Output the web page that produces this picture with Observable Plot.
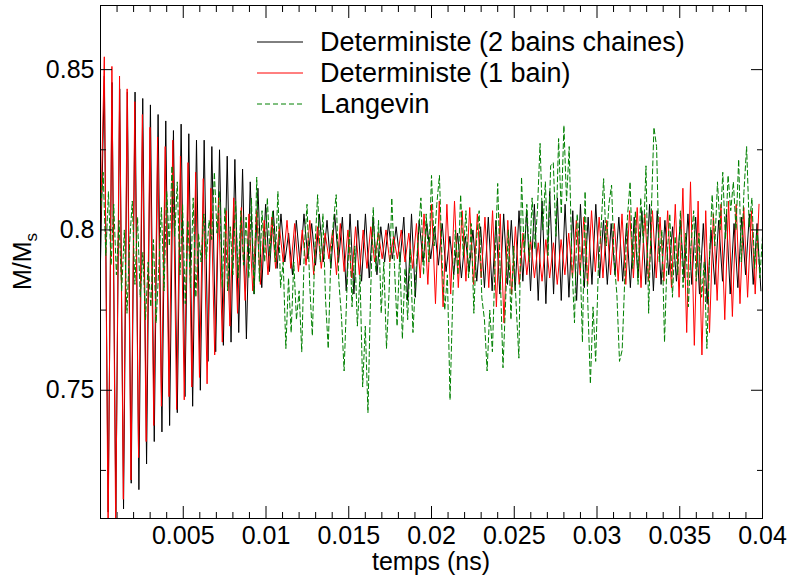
<!DOCTYPE html>
<html>
<head>
<meta charset="utf-8">
<script src="https://cdn.jsdelivr.net/npm/d3@7"></script>
<script src="https://cdn.jsdelivr.net/npm/@observablehq/plot@0.6"></script>
<style>
  body { margin: 0; background: #fff; }
  #chart { position: relative; width: 788px; height: 579px; }
</style>
</head>
<body>
<div id="chart"></div>
<script>
// ---- data ----
const seriesNames = ["Deterministe (2 bains chaines)", "Deterministe (1 bain)", "Langevin"];

const tStep2Bains = 0.000232;
const deterministe2Bains = [
  0.790,0.848,0.712,0.846,0.712,0.844,0.713,0.843,0.721,0.843,
  0.719,0.841,0.727,0.839,0.734,0.836,0.737,0.834,0.739,0.831,
  0.743,0.833,0.748,0.830,0.745,0.828,0.750,0.828,0.759,0.826,
  0.762,0.825,0.764,0.823,0.765,0.822,0.768,0.819,0.766,0.815,
  0.780,0.813,0.782,0.808,0.787,0.806,0.788,0.805,0.790,0.799,
  0.786,0.803,0.789,0.805,0.791,0.802,0.789,0.805,0.790,0.803,
  0.788,0.805,0.790,0.804,0.781,0.805,0.780,0.803,0.784,0.805,
  0.785,0.804,0.786,0.801,0.790,0.802,0.791,0.801,0.790,0.804,
  0.778,0.805,0.779,0.803,0.790,0.802,0.791,0.801,0.789,0.802,
  0.787,0.798,0.786,0.799,0.785,0.798,0.787,0.800,0.784,0.801,
  0.782,0.804,0.781,0.803,0.780,0.805,0.783,0.803,0.781,0.806,
  0.784,0.806,0.781,0.808,0.778,0.809,0.777,0.812,0.780,0.810,
  0.778,0.808,0.779,0.806,0.778,0.808,0.782,0.804,0.783,0.808,
  0.785,0.803,0.783,0.802,0.786,0.804,0.784,0.802,0.782,0.804,
  0.785,0.806,0.783,0.808,0.781,0.806,0.783,0.803,0.786,0.801,
  0.784,0.803,0.785,0.805,0.783,0.804,0.780,0.802,0.777,0.800,
  0.783,0.803,0.784,0.805,0.780,0.802,0.782,0.804,0.786,0.805,
  0.783,0.802,0.781
];

const tStep1Bain = 0.000230;
const deterministe1Bain = [
  0.800,0.854,0.704,0.851,0.706,0.848,0.716,0.844,0.722,0.840,
  0.729,0.836,0.734,0.832,0.739,0.829,0.745,0.826,0.748,0.828,
  0.744,0.823,0.747,0.821,0.751,0.818,0.754,0.816,0.752,0.813,
  0.761,0.810,0.765,0.806,0.770,0.810,0.774,0.807,0.778,0.805,
  0.781,0.806,0.783,0.803,0.786,0.804,0.788,0.801,0.790,0.803,
  0.788,0.802,0.787,0.800,0.789,0.803,0.786,0.801,0.788,0.799,
  0.791,0.800,0.786,0.802,0.787,0.800,0.785,0.801,0.786,0.800,
  0.788,0.801,0.790,0.799,0.791,0.800,0.790,0.798,0.791,0.800,
  0.790,0.799,0.788,0.802,0.785,0.805,0.783,0.808,0.777,0.809,
  0.776,0.808,0.780,0.809,0.782,0.806,0.784,0.807,0.783,0.805,
  0.785,0.804,0.782,0.806,0.776,0.805,0.771,0.803,0.780,0.801,
  0.783,0.799,0.786,0.797,0.785,0.796,0.784,0.797,0.785,0.796,
  0.783,0.797,0.786,0.799,0.785,0.803,0.786,0.804,0.783,0.806,
  0.787,0.804,0.785,0.803,0.786,0.802,0.784,0.805,0.783,0.806,
  0.785,0.807,0.782,0.805,0.784,0.806,0.785,0.804,0.784,0.806,
  0.782,0.808,0.779,0.813,0.768,0.815,0.764,0.809,0.761,0.806,
  0.768,0.805,0.778,0.808,0.772,0.809,0.773,0.808,0.777,0.807,
  0.779,0.806,0.780,0.808
];

const tStepLangevin = 0.00016;
const langevin = [
  0.805,0.818,0.792,0.812,0.789,0.808,0.786,0.803,0.781,0.800,
  0.774,0.796,0.809,0.783,0.804,0.779,0.793,0.772,0.790,0.776,
  0.797,0.771,0.788,0.807,0.781,0.812,0.795,0.820,0.798,0.815,
  0.786,0.808,0.777,0.803,0.782,0.810,0.779,0.799,0.790,0.805,
  0.791,0.803,0.797,0.818,0.799,0.812,0.782,0.807,0.781,0.801,
  0.786,0.809,0.785,0.806,0.789,0.804,0.785,0.810,0.780,0.8165,
  0.784,0.806,0.790,0.810,0.792,0.806,0.790,0.812,0.782,0.790,
  0.763,0.785,0.768,0.790,0.772,0.781,0.762,0.795,0.808,0.783,
  0.767,0.795,0.811,0.790,0.805,0.778,0.763,0.792,0.803,0.811,
  0.784,0.773,0.756,0.780,0.800,0.776,0.795,0.770,0.786,0.751,
  0.770,0.743,0.780,0.807,0.787,0.803,0.774,0.790,0.763,0.781,
  0.810,0.789,0.770,0.793,0.766,0.788,0.772,0.794,0.768,0.785,
  0.798,0.810,0.786,0.805,0.790,0.817,0.795,0.808,0.817,0.790,
  0.775,0.786,0.747,0.778,0.800,0.786,0.811,0.792,0.806,0.785,
  0.802,0.774,0.797,0.806,0.779,0.772,0.756,0.775,0.762,0.790,
  0.8145,0.785,0.757,0.778,0.800,0.772,0.795,0.776,0.760,0.8165,
  0.793,0.808,0.790,0.810,0.794,0.806,0.827,0.800,0.815,0.792,
  0.820,0.821,0.798,0.8285,0.805,0.8326,0.809,0.826,0.790,0.771,
  0.805,0.795,0.765,0.812,0.778,0.752,0.776,0.759,0.788,0.800,
  0.816,0.795,0.808,0.814,0.790,0.780,0.759,0.7625,0.785,0.804,
  0.815,0.788,0.806,0.783,0.810,0.796,0.820,0.774,0.805,0.832,
  0.826,0.790,0.800,0.765,0.792,0.805,0.779,0.798,0.786,0.806,
  0.782,0.799,0.776,0.795,0.806,0.784,0.799,0.779,0.790,0.763,
  0.792,0.811,0.795,0.815,0.800,0.818,0.797,0.817,0.806,0.815,
  0.800,0.822,0.790,0.812,0.826,0.801,0.810,0.788,0.800,0.785,
  0.798
];

const xMajorTicks = [0.005, 0.01, 0.015, 0.02, 0.025, 0.03, 0.035, 0.04];
const xMinorTicks = [0.001,0.002,0.003,0.004,0.006,0.007,0.008,0.009,0.011,0.012,0.013,0.014,
  0.016,0.017,0.018,0.019,0.021,0.022,0.023,0.024,0.026,0.027,0.028,0.029,
  0.031,0.032,0.033,0.034,0.036,0.037,0.038,0.039];
const yMajorTicks = [0.75, 0.8, 0.85];
const yMinorTicks = [0.725, 0.775, 0.825];
const xLabel = "temps (ns)";

// ---- build tables ----
const toRows = (vals, step) => vals.map((v, i) => ({t: i * step, m: v}));
const rows2 = toRows(deterministe2Bains, tStep2Bains);
const rows1 = toRows(deterministe1Bain, tStep1Bain);
const rowsL = toRows(langevin, tStepLangevin);

const FONT = "'Liberation Sans', Arial, Helvetica, sans-serif";
const fmt = d => String(d);
const blank = () => "";

const plot = Plot.plot({
  width: 788,
  height: 579,
  marginLeft: 100,
  marginRight: 26,
  marginTop: 5,
  marginBottom: 61,
  x: {domain: [0, 0.04]},
  y: {domain: [0.71, 0.87]},
  style: {fontFamily: FONT, fontSize: "25px", color: "black", background: "white", overflow: "visible"},
  marks: [
    Plot.line(rows2, {x: "t", y: "m", stroke: "#000000", strokeWidth: 1, clip: true}),
    Plot.line(rows1, {x: "t", y: "m", stroke: "#ff0000", strokeWidth: 1, clip: true}),
    Plot.line(rowsL, {x: "t", y: "m", stroke: "#008000", strokeWidth: 1, strokeDasharray: "5,3", clip: true}),
    Plot.frame({stroke: "#000", strokeWidth: 1}),
    // inward ticks on all four sides
    Plot.axisX({anchor: "bottom", ticks: xMajorTicks, tickSize: -12, tickFormat: blank, label: null}),
    Plot.axisX({anchor: "bottom", ticks: xMinorTicks, tickSize: -6, tickFormat: blank, label: null}),
    Plot.axisX({anchor: "top", ticks: xMajorTicks, tickSize: -12, tickFormat: blank, label: null}),
    Plot.axisX({anchor: "top", ticks: xMinorTicks, tickSize: -6, tickFormat: blank, label: null}),
    Plot.axisY({anchor: "left", ticks: yMajorTicks, tickSize: -12, tickFormat: blank, label: null}),
    Plot.axisY({anchor: "left", ticks: yMinorTicks, tickSize: -6, tickFormat: blank, label: null}),
    Plot.axisY({anchor: "right", ticks: yMajorTicks, tickSize: -12, tickFormat: blank, label: null}),
    Plot.axisY({anchor: "right", ticks: yMinorTicks, tickSize: -6, tickFormat: blank, label: null}),
    // tick labels
    Plot.axisX({anchor: "bottom", ticks: xMajorTicks, tickSize: 0, tickPadding: 8, tickFormat: fmt, label: null}),
    Plot.axisY({anchor: "left", ticks: yMajorTicks, tickSize: 0, tickPadding: 6, tickFormat: fmt, label: null})
  ]
});

document.getElementById("chart").appendChild(plot);

// axis titles and legend
const svg = d3.select(plot);
const xr = plot.scale("x").range;
const yr = plot.scale("y").range;
const xMid = (xr[0] + xr[1]) / 2;
const yMid = (yr[0] + yr[1]) / 2;

svg.append("text")
  .attr("x", xMid).attr("y", 570)
  .attr("text-anchor", "middle")
  .attr("font-family", FONT).attr("font-size", 25).attr("fill", "#000")
  .text(xLabel);

const yl = svg.append("text")
  .attr("transform", `translate(31,${yMid}) rotate(-90)`)
  .attr("text-anchor", "middle")
  .attr("font-family", FONT).attr("font-size", 25).attr("fill", "#000");
yl.append("tspan").text("M/M");
yl.append("tspan").attr("font-size", 17).attr("dy", 6).text("s");

const legendColors = ["#000000", "#ff0000", "#008000"];
const legendDash = [null, null, "5,3"];
const lg = svg.append("g").attr("text-anchor", "start");
seriesNames.forEach((name, i) => {
  const y = 42 + i * 31;
  lg.append("line").attr("x1", 257).attr("x2", 303).attr("y1", y).attr("y2", y)
    .attr("stroke", legendColors[i]).attr("stroke-width", 1)
    .attr("stroke-dasharray", legendDash[i]);
  lg.append("text").attr("x", 320).attr("y", y + 9)
    .attr("text-anchor", "start")
    .attr("font-family", FONT).attr("font-size", 27).attr("fill", "#000")
    .text(name);
});
</script>
</body>
</html>
